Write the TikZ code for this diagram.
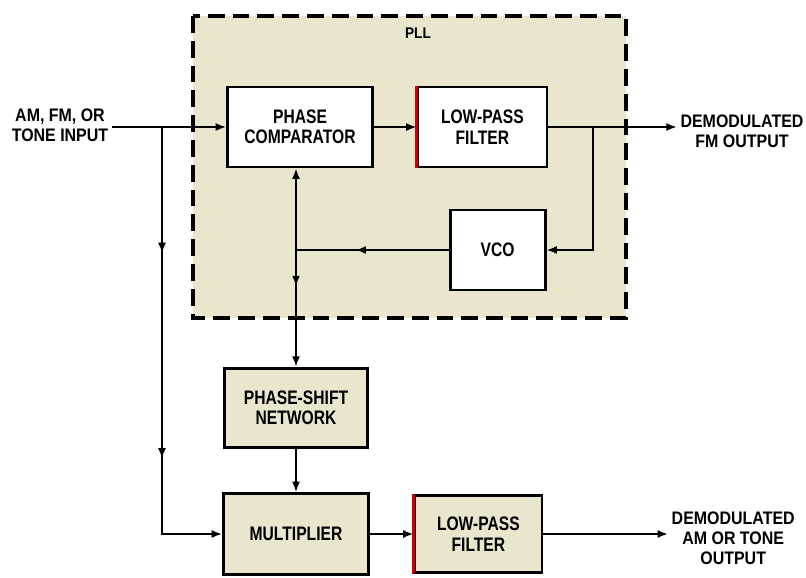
\documentclass[tikz,border=0pt]{standalone}
\usepackage{fontspec}
\setmainfont{Liberation Sans}
\newfontfamily\blockfont[FakeStretch=0.8]{Liberation Sans}
\newfontfamily\labelfont[FakeStretch=0.88]{Liberation Sans}
\usetikzlibrary{arrows.meta,decorations.markings}
\definecolor{pllfill}{RGB}{234,230,205}
\tikzset{
  block/.style={draw, line width=2pt, align=center, inner sep=0pt,
    font=\blockfont\bfseries\fontsize{13.9}{14.5}\selectfont},
  ioline/.style={align=center, inner sep=2pt,
    font=\labelfont\bfseries\fontsize{12.9}{14.3}\selectfont},
  plldash/.style={line width=2.2pt, dash pattern=on 0.42cm off 0.2cm},
  midarrow/.style={postaction={decorate,
    decoration={markings, mark=at position #1 with {\arrow{>}}}}}
}
\begin{document}
\begin{tikzpicture}[>={Latex[length=0.26cm,width=0.2cm]}, line width=1.3pt]
  \useasboundingbox (0,0) rectangle (20.15,-14.425);

  % PLL region
  \draw[plldash, fill=pllfill] (4.825,-0.4) rectangle (15.65,-7.95);
  \node[font=\labelfont\bfseries\fontsize{11}{12}\selectfont] (pll) at (10.45,-0.83) {PLL};

  % blocks
  \node[block, fill=white, minimum width=3.625cm, minimum height=2cm] (pc) at (7.5,-3.175) {PHASE\\COMPARATOR};
  \node[block, fill=white, minimum width=3.225cm, minimum height=2cm] (lpf) at (12.06,-3.175) {LOW-PASS\\FILTER};
  \node[block, fill=white, minimum width=2.375cm, minimum height=2cm] (vco) at (12.44,-6.25) {VCO};
  \node[block, fill=pllfill, minimum width=3.575cm, minimum height=1.975cm] (psn) at (7.4,-10.19) {PHASE-SHIFT\\NETWORK};
  \node[block, fill=pllfill, minimum width=3.625cm, minimum height=2.025cm] (mul) at (7.4,-13.35) {MULTIPLIER};
  \node[block, fill=pllfill, minimum width=3.175cm, minimum height=1.925cm] (lpf2) at (11.96,-13.35) {LOW-PASS\\FILTER};
  \draw[red!80!black, line width=2pt] (lpf.north west) -- (lpf.south west);
  \draw[red!80!black, line width=2pt] (lpf2.north west) -- (lpf2.south west);

  % inputs and outputs
  \node[ioline] (in) at (1.5,-3.125) {AM, FM, OR\\TONE INPUT};
  \node[ioline] (fmout) at (18.55,-3.275) {DEMODULATED\\FM OUTPUT};
  \node[ioline] (amout) at (18.33,-13.45) {DEMODULATED\\AM OR TONE\\OUTPUT};

  \coordinate (split) at (4.05,-3.175);
  \coordinate (tap) at (14.825,-3.175);
  \coordinate (jn) at (psn.north |- vco.west);

  % connectors
  \draw[->] (in.east |- pc.west) -- (pc.west);
  \draw[->] (pc.east) -- (lpf.west);
  \draw[->] (lpf.east) -- (fmout.west |- lpf.east);
  \draw[->] (tap) |- (vco.east);
  \draw[midarrow=0.61] (vco.west) -- (jn);
  \draw[->] (jn) -- (jn |- pc.south);
  \draw[->, midarrow=0.31] (jn) -- (psn.north);
  \draw[->] (psn.south) -- (mul.north);
  \draw[->, midarrow=0.27, midarrow=0.71] (split) |- (mul.west);
  \draw[->] (mul.east) -- (lpf2.west);
  \draw[->] (lpf2.east) -- (amout.west |- lpf2.east);
\end{tikzpicture}
\end{document}
